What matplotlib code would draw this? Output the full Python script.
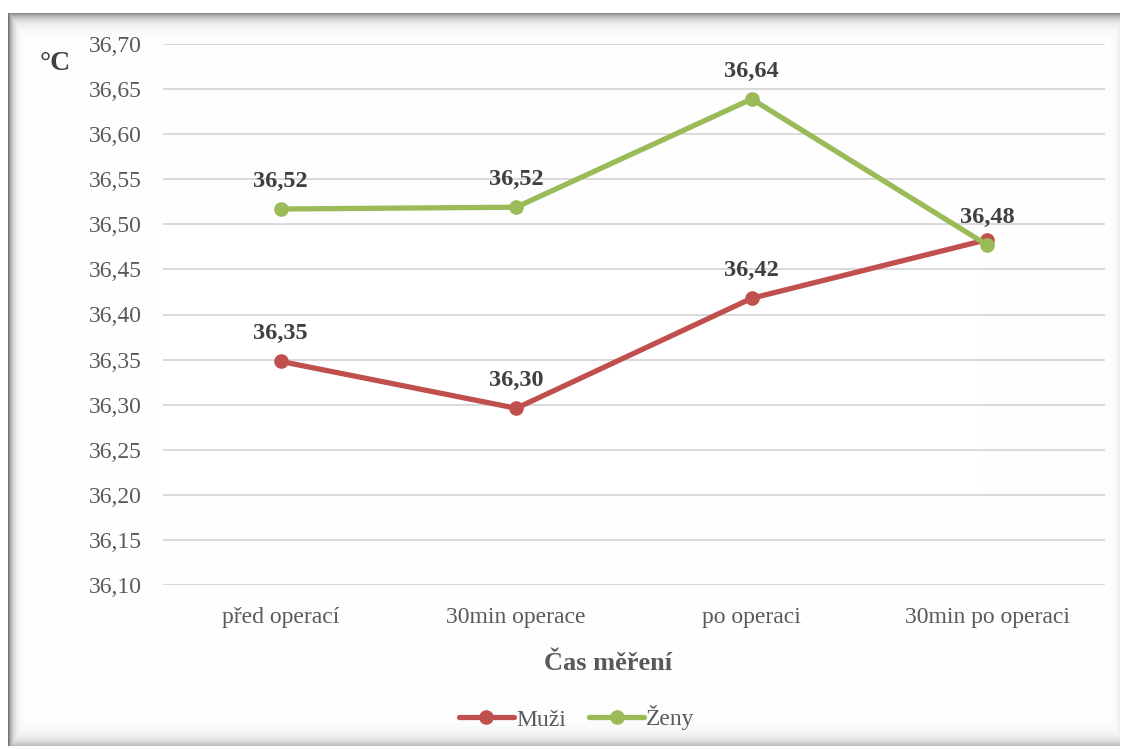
import numpy as np
import matplotlib
matplotlib.use("Agg")
import matplotlib.pyplot as plt
from matplotlib.lines import Line2D

# Body temperature by measurement time
categories = ["před operací", "30min operace", "po operaci", "30min po operaci"]
muzi = [36.348, 36.296, 36.418, 36.483]
zeny = [36.517, 36.519, 36.639, 36.477]
muzi_labeled = [True, True, True, False]
zeny_labeled = [True, True, True, True]
y_ticks = [36.10, 36.15, 36.20, 36.25, 36.30, 36.35, 36.40,
           36.45, 36.50, 36.55, 36.60, 36.65, 36.70]

RED = "#C0504D"
GREEN = "#9BBB59"
TXT = "#595959"
LBL = "#404040"
SERIF = ["Liberation Serif", "DejaVu Serif"]

plt.rcParams["font.family"] = SERIF

W, H = 1122, 749
fig = plt.figure(figsize=(W / 100, H / 100), dpi=100)

# Framed background with a soft inner shadow
bg = fig.add_axes([0, 0, 1, 1], zorder=-10)
yy, xx = np.mgrid[0:H, 0:W].astype(float)
x0, x1, y0, y1 = 8, 1120, 13, 746
d = np.maximum.reduce([
    0.45 * np.exp(-(yy - y0) / 6.0),
    0.55 * np.exp(-(xx - x0) / 4.0),
    0.30 * np.exp(-(y1 - yy) / 7.0),
    0.08 * np.exp(-(x1 - xx) / 4.0),
])
inside = (xx >= x0) & (xx < x1) & (yy >= y0) & (yy < y1)
val = np.where(inside, 1 - d, 1.0)
bg.imshow(np.dstack([val, val, val]), extent=(0, W, H, 0), aspect="auto",
          interpolation="bilinear")
bg.set_axis_off()

ax = fig.add_axes([163 / W, 1 - 585 / H, (1105 - 163) / W, (585 - 44) / H])
ax.set_facecolor("none")
x = np.arange(len(categories))

for vals, color, shown in ((muzi, RED, muzi_labeled), (zeny, GREEN, zeny_labeled)):
    ax.plot(x, vals, color=color, lw=3.8, marker="o", ms=9.5,
            solid_capstyle="round", zorder=3)
    for xi, v, s in zip(x, vals, shown):
        if s:
            ax.annotate(f"{v:.2f}".replace(".", ","), (xi, v),
                        xytext=(0, 20), textcoords="offset points",
                        ha="center", va="center", fontsize=17.5,
                        fontweight="bold", color=LBL, zorder=4)

ax.set_xlim(-0.5, len(categories) - 0.5)
ax.set_ylim(36.10, 36.70)
ax.set_yticks(y_ticks)
ax.set_yticklabels([f"{t:.2f}".replace(".", ",") for t in y_ticks])
ax.set_xticks(x)
ax.set_xticklabels(categories)
ax.tick_params(axis="y", length=0, pad=15, labelsize=17, labelcolor=TXT)
ax.tick_params(axis="x", length=0, pad=16, labelsize=17, labelcolor=TXT)
ax.grid(axis="y", color="#D9D9D9", lw=1.4, zorder=0)
for sp in ax.spines.values():
    sp.set_visible(False)

fig.text(608 / W, 1 - 664 / H, "Čas měření", ha="center", va="center",
         fontsize=19, fontweight="bold", color=TXT)
fig.text(55 / W, 1 - 64 / H, "°C", ha="center", va="center",
         fontsize=20, fontweight="bold", color=LBL)

handles = [
    Line2D([], [], color=RED, lw=3.8, marker="o", ms=9.5, solid_capstyle="round"),
    Line2D([], [], color=GREEN, lw=3.8, marker="o", ms=9.5, solid_capstyle="round"),
]
fig.legend(handles, ["Muži", "Ženy"], loc="center", bbox_to_anchor=(577 / W, 1 - 718 / H),
           ncol=2, frameon=False, fontsize=17, labelcolor=TXT,
           handlelength=2.3, handletextpad=0.1, columnspacing=1.0)

fig.savefig("out.png", dpi=100)
